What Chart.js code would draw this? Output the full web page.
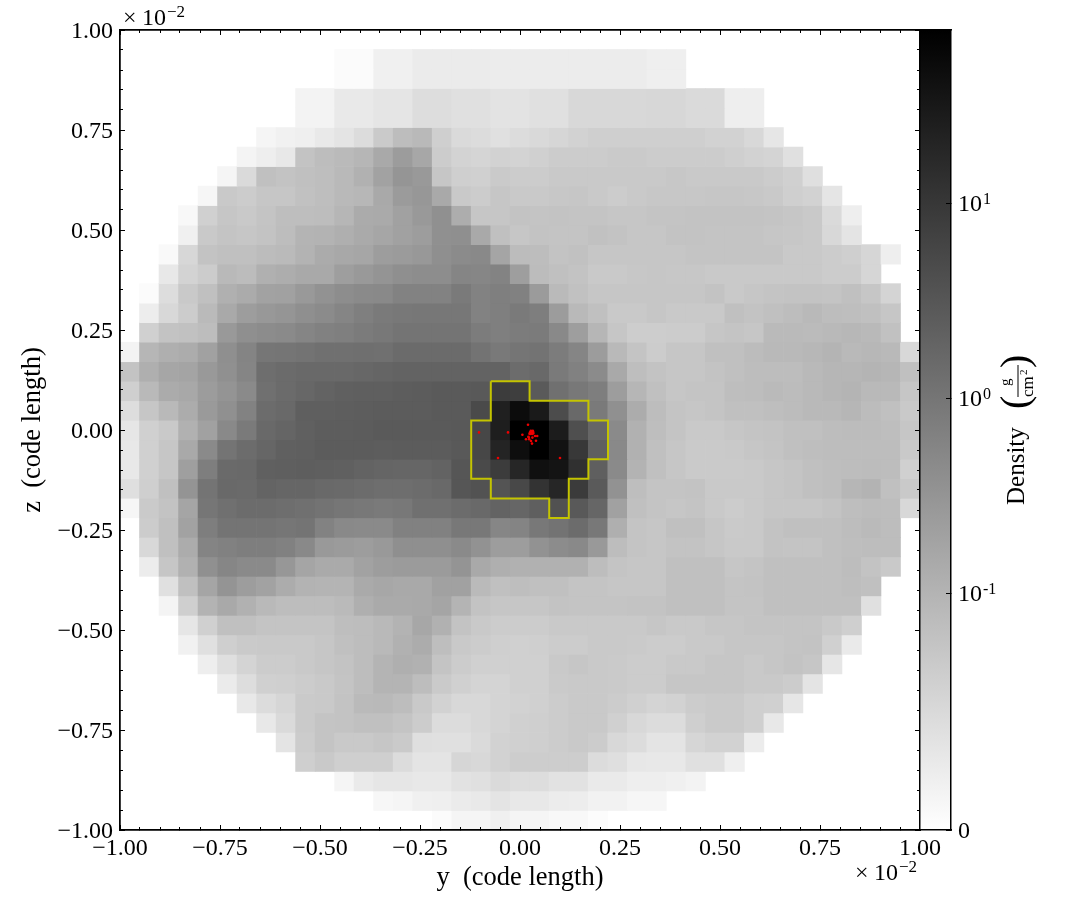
<!DOCTYPE html>
<html>
<head>
<meta charset="utf-8">
<style>
  html, body { margin: 0; background: #fff; }
  canvas { position: absolute; left: 0; top: 0; }
</style>
<script src="https://cdn.jsdelivr.net/npm/chart.js@4/dist/chart.umd.min.js"></script>
</head>
<body>
<canvas id="slice" width="1084" height="920"></canvas>
<canvas id="cbar" width="1084" height="920"></canvas>
<script>
// first filled column of each row of the projection, top row first
const firstCol = [0,11,11,9,9,7,6,5,4,3,3,2,2,1,1,1,0,0,0,0,0,0,0,0,0,1,1,1,2,2,3,3,4,5,6,7,8,9,11,13,16];

// density in g/cm^2, one list per row from z=+1 down to z=-1
const density = [
[],
[.005,.005,.02,.02,.027,.027,.027,.027,.025,.025,.025,.025,.025,.025,.025,.025,.021,.021],
[.005,.005,.02,.02,.027,.027,.027,.027,.025,.025,.025,.025,.025,.025,.025,.025,.021,.021],
[.016,.016,.029,.029,.034,.034,.045,.045,.041,.041,.037,.037,.041,.041,.051,.051,.051,.051,.053,.053,.049,.049,.022,.022],
[.016,.016,.029,.029,.034,.034,.045,.045,.041,.041,.037,.037,.041,.041,.051,.051,.051,.051,.053,.053,.049,.049,.022,.022],
[.013,.018,.021,.029,.036,.046,.07,.088,.093,.063,.049,.046,.041,.046,.05,.054,.059,.063,.064,.064,.063,.063,.063,.06,.059,.051,.033],
[.014,.022,.03,.08,.087,.091,.097,.15,.24,.16,.068,.058,.055,.059,.058,.062,.067,.068,.068,.07,.07,.068,.068,.067,.067,.063,.059,.057,.041],
[.013,.049,.083,.08,.083,.086,.093,.11,.19,.31,.27,.076,.063,.062,.07,.068,.068,.072,.072,.071,.071,.072,.072,.074,.072,.071,.072,.071,.067,.062,.042],
[.012,.072,.068,.076,.076,.082,.086,.093,.095,.145,.25,.29,.145,.072,.068,.075,.072,.072,.074,.075,.072,.068,.071,.074,.074,.074,.075,.075,.074,.071,.064,.059,.034],
[.009,.062,.075,.071,.078,.086,.086,.088,.097,.135,.14,.2,.27,.37,.125,.075,.076,.079,.078,.079,.078,.078,.076,.076,.078,.078,.079,.079,.079,.079,.078,.075,.071,.049,.022],
[.02,.071,.078,.075,.08,.087,.099,.1,.12,.14,.165,.2,.23,.37,.38,.15,.083,.076,.079,.078,.078,.082,.079,.076,.075,.08,.079,.078,.078,.078,.075,.074,.071,.051,.036],
[.008,.053,.079,.084,.084,.089,.091,.1,.135,.155,.165,.23,.25,.28,.38,.45,.49,.17,.089,.088,.08,.082,.075,.075,.075,.075,.076,.078,.078,.078,.078,.078,.072,.071,.067,.063,.054,.022],
[.03,.058,.067,.093,.089,.115,.125,.145,.15,.22,.27,.32,.39,.41,.41,.55,.53,.6,.22,.089,.083,.08,.072,.072,.074,.075,.074,.074,.072,.072,.071,.071,.072,.072,.068,.068,.054],
[.005,.045,.071,.084,.115,.135,.19,.2,.27,.34,.41,.46,.49,.62,.62,.62,.83,.62,.69,.66,.25,.091,.082,.075,.075,.076,.076,.076,.076,.079,.072,.075,.078,.079,.079,.078,.083,.076,.057],
[.024,.051,.067,.091,.145,.23,.28,.31,.39,.45,.55,.69,.83,.9,.93,.93,.93,.62,.69,.83,.72,.24,.093,.083,.072,.072,.075,.072,.072,.072,.083,.08,.083,.088,.093,.088,.086,.083,.075],
[.062,.079,.082,.088,.27,.38,.43,.46,.55,.64,.69,.8,.9,1.05,1.05,1.05,1.05,.77,.69,.77,.8,.49,.22,.097,.076,.066,.066,.068,.067,.075,.078,.075,.091,.091,.09,.092,.095,.092,.082],
[.016,.096,.12,.13,.2,.39,.57,.96,1,1.1,1.2,1.2,1.25,1.2,1.45,1.45,1.45,1.45,1.1,.86,1,1.1,.77,.55,.24,.093,.078,.068,.075,.075,.083,.083,.089,.092,.092,.095,.099,.093,.095,.093,.051],
[.08,.12,.165,.18,.27,.37,.55,1.3,1.45,1.55,1.6,1.6,1.7,1.8,1.95,1.95,2,2,1.95,2,1.4,1.55,.83,.66,.45,.145,.086,.079,.076,.076,.08,.084,.087,.088,.088,.093,.097,.097,.099,.097,.083],
[.064,.093,.135,.155,.24,.32,.46,1.2,1.45,1.7,2,2.2,2.3,2.3,2.5,2.6,2.7,2.7,2.9,8.3,7.7,2.7,1.2,.9,.72,.23,.096,.083,.076,.078,.078,.086,.088,.091,.089,.093,.096,.099,.093,.093,.076],
[.045,.076,.093,.13,.26,.37,.62,1.4,1.6,2.3,2.3,2.4,2.5,2.6,2.6,2.6,2.7,2.7,4.9,24,49,29,4.6,1.6,.83,.37,.13,.087,.078,.076,.078,.083,.084,.086,.089,.093,.093,.096,.089,.083,.072],
[.033,.062,.072,.11,.2,.49,.83,1.6,1.8,2.2,2.5,2.5,2.6,2.7,2.7,2.7,2.8,2.9,5.5,25,77,77,27,4.2,1.75,.46,.11,.086,.078,.072,.072,.075,.078,.08,.083,.084,.087,.089,.089,.086,.075],
[.03,.062,.075,.145,.46,1.05,1.4,1.75,2.2,2.3,2.6,2.6,2.6,2.5,2.6,2.6,2.6,2.9,5.5,20,46,77,40,9.6,2.3,.49,.11,.083,.075,.07,.07,.072,.075,.078,.083,.086,.087,.088,.088,.088,.072],
[.03,.062,.076,.21,.72,1.5,1.6,2.2,2.3,2.4,2.3,2.2,1.95,1.8,1.75,1.75,1.95,3.2,4.9,8.3,19,43,37,13,2.3,.46,.1,.083,.075,.07,.07,.07,.072,.075,.078,.083,.086,.088,.089,.087,.062],
[.043,.064,.083,.32,1.05,1.6,1.5,1.9,1.75,1.75,1.6,1.5,1.4,1.3,1.3,1.4,1.6,3.2,3.7,3.4,5.3,11.6,19,8.6,2.7,.34,.086,.078,.078,.08,.071,.072,.072,.075,.078,.083,.086,.096,.1,.083,.072],
[.012,.07,.08,.17,.96,1.2,1.4,1.4,1.3,1.2,1.1,.96,.9,.83,.9,1.2,1.2,1.4,1.6,2,1.75,2.3,3.9,2.9,1.75,.2,.083,.078,.075,.078,.072,.067,.072,.075,.075,.075,.08,.086,.089,.088,.051],
[.067,.083,.19,.72,1.05,1.05,1.05,.96,1.05,.62,.49,.46,.46,.66,.66,.66,.9,.9,.53,.57,.9,1.1,1.4,.9,.12,.078,.075,.083,.083,.075,.07,.072,.08,.083,.083,.083,.088,.091,.088],
[.051,.084,.13,.57,.66,.72,.72,.66,.49,.27,.25,.23,.27,.39,.39,.39,.46,.34,.23,.23,.34,.43,.49,.27,.088,.078,.076,.08,.08,.075,.072,.072,.08,.078,.078,.083,.086,.088,.088],
[.025,.075,.11,.37,.53,.46,.46,.29,.17,.14,.14,.19,.23,.25,.25,.25,.32,.15,.12,.11,.11,.11,.11,.088,.078,.075,.075,.083,.083,.083,.075,.078,.083,.083,.083,.083,.088,.08,.072],
[.041,.084,.17,.32,.23,.19,.13,.1,.099,.099,.14,.16,.15,.15,.2,.2,.091,.083,.086,.084,.084,.078,.078,.075,.075,.075,.083,.083,.083,.078,.08,.083,.083,.083,.083,.086,.083],
[.014,.063,.1,.15,.11,.093,.088,.088,.088,.091,.12,.14,.14,.15,.17,.099,.08,.075,.075,.075,.08,.078,.078,.078,.08,.08,.083,.083,.083,.078,.078,.083,.083,.083,.083,.084,.041],
[.033,.062,.083,.083,.078,.078,.078,.078,.086,.088,.093,.1,.16,.11,.08,.072,.068,.067,.067,.072,.072,.072,.072,.072,.075,.072,.072,.075,.075,.078,.078,.078,.078,.072,.063],
[.018,.041,.063,.07,.072,.072,.072,.075,.083,.088,.093,.11,.13,.086,.072,.067,.064,.062,.063,.067,.068,.071,.071,.07,.068,.068,.072,.072,.075,.075,.075,.078,.08,.062,.028],
[.022,.042,.057,.068,.068,.072,.075,.08,.088,.099,.12,.11,.078,.067,.062,.062,.062,.062,.072,.075,.072,.07,.068,.068,.072,.072,.075,.075,.072,.075,.08,.075,.033],
[.027,.045,.062,.064,.067,.072,.078,.088,.099,.099,.088,.07,.062,.057,.057,.062,.062,.07,.072,.072,.07,.067,.067,.075,.075,.075,.075,.072,.072,.067,.036],
[.03,.046,.054,.07,.072,.08,.091,.093,.088,.072,.059,.051,.051,.057,.059,.062,.067,.072,.072,.067,.062,.057,.059,.067,.07,.07,.064,.062,.033],
[.03,.049,.07,.078,.08,.083,.084,.078,.067,.046,.046,.051,.057,.062,.064,.067,.072,.072,.062,.051,.046,.046,.063,.07,.07,.064,.03],
[.036,.067,.078,.072,.072,.075,.07,.043,.041,.041,.049,.059,.062,.063,.067,.072,.067,.051,.046,.036,.036,.054,.059,.059,.025],
[.063,.072,.064,.064,.064,.046,.036,.036,.054,.051,.059,.066,.066,.066,.066,.046,.043,.032,.03,.03,.041,.041,.021],
[.013,.028,.033,.033,.03,.03,.038,.041,.049,.045,.045,.038,.038,.028,.028,.022,.022,.02,.016],
[.011,.013,.02,.021,.027,.029,.036,.03,.03,.025,.024,.017,.017,.012,.012],
[.005,.013,.013,.02,.013,.013,.009,.009,.004]
];

// outline of the clump (yellow), y and z in units of 1e-2
const contourY = [-.073,.024,.024,.171,.171,.22,.22,.171,.171,.122,.122,.073,.073,-.073,-.073,-.122,-.122,-.073,-.073];
const contourZ = [.122,.122,.073,.073,.024,.024,-.073,-.073,-.122,-.122,-.22,-.22,-.171,-.171,-.122,-.122,.024,.024,.122];

// particles (red)
const particleY = [.02,-.1025,-.03,.006,.029,.025,.033,.021,.0375,.043,.031,.015,.023,.0275,.04,.03,-.055,.1,.027,.032,.022,.025,.03,.033,.027,.031,.024,.029];
const particleZ = [.0133,-.006,-.006,-.012,-.004,-.008,-.005,-.017,-.015,-.015,-.019,-.023,-.023,-.0275,-.027,-.034,-.07,-.07,-.002,-.002,-.019,-.006,-.006,-.008,-.01,-.01,-.01,-.003];

const majorTicks = [-1,-.75,-.5,-.25,0,.25,.5,.75,1];
const minorTicks = [];
for (let i = -20; i <= 20; i++) if (i % 5 !== 0) minorTicks.push(i * .05);

const cbarTicks = [0,.1,1,10];
const cbarLabels = ['0','10','10','10'];
const cbarExponents = ['','-1','0','1'];

const SERIF = '"Liberation Serif", serif';
const nCells = 41, cell = 2 / nCells;

// symlog colour scale: linear below 0.1, log above
function norm(v) {
    if (v <= .1) return .29625 * v / .1;
    return .29625 + .24375 * Math.log10(v / .1);
}
function grey(v) {
    const g = Math.round(255 * (1 - Math.min(1, norm(v))));
    return 'rgb(' + g + ',' + g + ',' + g + ')';
}

function axis(position, min, max, values, len, size, extra) {
    return Object.assign({
        type: 'linear', position: position, min: min, max: max, offset: false, weight: 0,
        afterBuildTicks: s => { s.ticks = values.map(v => ({ value: v })); },
        afterFit: s => { if (s.isHorizontal()) s.height = size; else s.width = size; },
        grid: { drawOnChartArea: false, offset: false, tickLength: -len, tickColor: '#000', tickWidth: 1, z: 1 },
        border: { display: true, color: '#000', width: 1.5, z: 1 },
        ticks: { display: false, autoSkip: false, maxRotation: 0, z: 1 }
    }, extra || {});
}

const tickFmt = v => v.toFixed(2).replace('-', '\u2212');
function labelled(padding, shift) {
    return { display: true, autoSkip: false, maxRotation: 0, minRotation: 0, padding: padding, labelOffset: shift, color: '#000', z: 1,
             font: { family: SERIF, size: 24 }, callback: tickFmt };
}

const cellSets = density.map((row, r) => ({
    type: 'bar',
    order: 3,
    grouped: false,
    barPercentage: 1,
    categoryPercentage: 1,
    data: row.map((v, i) => {
        const c = firstCol[r] + i;
        return { x: -1 + (c + .5) * cell, y: [1 - (r + 1) * cell, 1 - r * cell] };
    }),
    backgroundColor: row.map(grey)
}));

const contourSet = {
    type: 'scatter', order: 2, showLine: true, pointRadius: 0, borderColor: '#c4c400', borderWidth: 2, tension: 0,
    data: contourY.map((y, i) => ({ x: y, y: contourZ[i] }))
};
const particleSet = {
    type: 'scatter', order: 1, pointRadius: 1.3, pointBorderWidth: 0, backgroundColor: '#f00000',
    data: particleY.map((y, i) => ({ x: y, y: particleZ[i] }))
};

const offsetLabel = {
    id: 'offsetLabel',
    afterDraw(chart) {
        const c = chart.ctx;
        c.save();
        c.fillStyle = '#000';
        [[123, 25], [855, 880]].forEach(p => {
            c.font = '24px ' + SERIF;
            c.fillText('\u00d7', p[0], p[1]);
            c.fillText('10', p[0] + 19, p[1]);
            c.font = '17px ' + SERIF;
            c.fillText('\u22122', p[0] + 44, p[1] - 8);
        });
        c.restore();
    }
};

new Chart(document.getElementById('slice'), {
    type: 'bar',
    data: { datasets: cellSets.concat([contourSet, particleSet]) },
    plugins: [offsetLabel],
    options: {
        responsive: false, animation: false, events: [], devicePixelRatio: 1,
        layout: { padding: { top: 30, right: 164, left: 0, bottom: 0 } },
        plugins: { legend: { display: false }, title: { display: false }, tooltip: { enabled: false } },
        scales: {
            x: axis('bottom', -1, 1, majorTicks, 5, 90, { weight: 5, ticks: labelled(9, 0),
                title: { display: true, text: 'y  (code length)', color: '#000', font: { family: SERIF, size: 26.5 }, padding: { top: 0, bottom: 26 } } }),
            xMinor: axis('bottom', -1, 1, minorTicks, 3, 0, { axis: 'x' }),
            xTop: axis('top', -1, 1, majorTicks, 5, 0, { axis: 'x' }),
            xTopMinor: axis('top', -1, 1, minorTicks, 3, 0, { axis: 'x' }),
            y: axis('left', -1, 1, majorTicks, 5, 120, { weight: 5, ticks: labelled(12, 1.5),
                title: { display: true, text: 'z  (code length)', color: '#000', font: { family: SERIF, size: 26.5 }, padding: { top: 17, bottom: 0 } } }),
            yMinor: axis('left', -1, 1, minorTicks, 3, 0, { axis: 'y' }),
            yRight: axis('right', -1, 1, majorTicks, 5, 0, { axis: 'y' }),
            yRightMinor: axis('right', -1, 1, minorTicks, 3, 0, { axis: 'y' })
        }
    }
});

// colorbar, same scale as the cells
const cbarTitle = {
    id: 'cbarTitle',
    afterDraw(chart) {
        const c = chart.ctx, scale = chart.scales.cb;
        c.save();
        c.fillStyle = '#000';
        c.textAlign = 'left';
        c.font = '16px ' + SERIF;
        cbarTicks.forEach((v, i) => {
            if (cbarExponents[i]) c.fillText(cbarExponents[i], 983, scale.getPixelForValue(norm(v)) + 1);
        });
        const rot = (text, x, y, font) => {
            c.save();
            c.translate(x, y);
            c.rotate(-Math.PI / 2);
            c.font = font;
            c.fillText(text, 0, 0);
            c.restore();
        };
        rot('Density', 1024, 505, '25px ' + SERIF);
        rot('(', 1028, 409, '40px ' + SERIF);
        rot(')', 1028, 368, '40px ' + SERIF);
        rot('g', 1010, 386, '15px ' + SERIF);
        rot('cm', 1033, 397, '17px ' + SERIF);
        rot('2', 1027, 375, '11px ' + SERIF);
        c.fillRect(1017.5, 365, 1, 32);
        c.restore();
    }
};

new Chart(document.getElementById('cbar'), {
    type: 'bar',
    data: {
        labels: ['Density'],
        datasets: [{
            data: [[0, 1]],
            barPercentage: 1,
            categoryPercentage: 1,
            backgroundColor: ctx => {
                const area = ctx.chart.chartArea;
                if (!area) return '#888';
                const g = ctx.chart.ctx.createLinearGradient(0, area.bottom, 0, area.top);
                g.addColorStop(0, '#fff');
                g.addColorStop(1, '#000');
                return g;
            }
        }]
    },
    plugins: [cbarTitle],
    options: {
        responsive: false, animation: false, events: [], devicePixelRatio: 1,
        layout: { padding: { left: 920, right: 0, top: 30, bottom: 90 } },
        plugins: { legend: { display: false }, title: { display: false }, tooltip: { enabled: false } },
        scales: {
            x: { type: 'category', offset: true, afterFit: s => { s.height = 0; },
                 grid: { display: false }, ticks: { display: false },
                 border: { display: true, color: '#000', width: 1.5, z: 1 } },
            xTop: axis('top', 0, 1, [], 0, 0, { axis: 'x' }),
            y: axis('left', 0, 1, [], 0, 0),
            cb: axis('right', 0, 1, cbarTicks.map(norm), 5, 133, { axis: 'y',
                ticks: { display: true, autoSkip: false, padding: 12, labelOffset: 2, color: '#000', z: 1,
                         font: { family: SERIF, size: 24 }, callback: (v, i) => cbarLabels[i] } })
        }
    }
});
</script>
</body>
</html>
